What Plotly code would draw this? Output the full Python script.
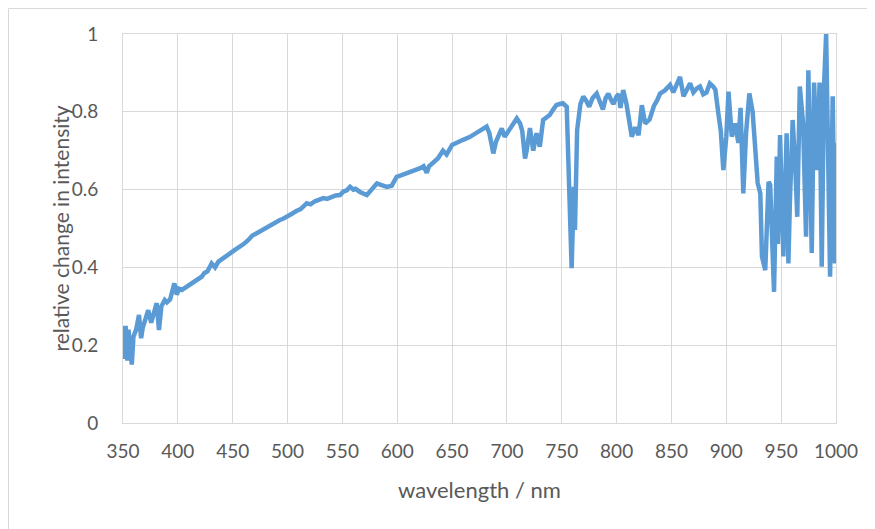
import plotly.graph_objects as go

wavelength = [
    350, 351, 352.4, 354, 355, 356.5, 358, 359.5, 362, 364.6, 366.5, 368, 370, 373, 375.7, 378,
    380.7, 382.8, 385, 388, 390, 393, 396.8, 399, 401, 403.7, 408, 412.6, 417, 421.7, 424, 427,
    430.8, 433.9, 437, 440, 443, 447, 452, 456.7, 460, 464, 468, 471.9, 476, 480, 484, 487, 490,
    493, 496, 500, 504, 508, 512, 517.5, 521, 525, 529, 532.7, 536, 540, 544, 547.8, 551, 554,
    557, 560, 562, 566, 569, 572.3, 576.7, 579, 581.5, 585, 590.6, 595, 599.5, 604, 608.7, 613,
    617.8, 621, 624, 626.9, 629, 633, 637, 641.7, 645, 650, 655, 660, 666, 672.4, 677, 681.5,
    684, 687.6, 690, 695.3, 698, 702, 706, 709, 712, 714, 716.5, 718, 721, 724, 727, 730, 733,
    736, 739, 742, 745, 748, 751, 754.5, 757.5, 759, 761, 762, 764, 767, 769.6, 772, 775, 778,
    781.8, 784, 787.5, 790, 792.5, 795, 797, 800, 802, 803.5, 806, 809, 811, 813.8, 817, 820,
    823, 826, 830, 834, 837, 839.6, 844, 848.7, 851.7, 855, 857.8, 861, 864, 867, 870, 873, 876,
    879, 882, 885, 888, 890, 892.7, 895, 897.3, 900, 902, 905, 908, 911, 913, 915.5, 918, 921,
    924, 926, 928.6, 931, 932.5, 935.5, 937, 938.5, 940, 941.6, 943.5, 946, 947, 949, 952, 955,
    956.6, 958, 960.5, 963, 964.7, 967, 970, 972.7, 974.8, 977.9, 980, 983, 985, 987, 989, 991,
    993, 994.6, 997, 999, 1000,
]
intensity = [
    0.25, 0.165, 0.25, 0.16, 0.24, 0.2, 0.15, 0.222, 0.24, 0.278, 0.218, 0.245, 0.265, 0.29, 0.258, 0.284,
    0.308, 0.239, 0.3, 0.316, 0.31, 0.318, 0.359, 0.33, 0.345, 0.342, 0.35, 0.359, 0.37, 0.376, 0.385, 0.39,
    0.41, 0.40, 0.415, 0.42, 0.428, 0.435, 0.445, 0.453, 0.46, 0.47, 0.482, 0.488, 0.495, 0.5, 0.508, 0.513, 0.52,
    0.522, 0.525, 0.53, 0.538, 0.545, 0.55, 0.565, 0.562, 0.57, 0.573, 0.578, 0.576, 0.582, 0.585, 0.586, 0.595, 0.598,
    0.607, 0.6, 0.602, 0.594, 0.59, 0.586, 0.6, 0.61, 0.616, 0.612, 0.607, 0.61, 0.633, 0.637, 0.642, 0.645,
    0.65, 0.655, 0.66, 0.643, 0.66, 0.67, 0.68, 0.70, 0.69, 0.715, 0.72, 0.728, 0.735, 0.745, 0.752, 0.762,
    0.745, 0.693, 0.723, 0.757, 0.736, 0.755, 0.77, 0.783, 0.77, 0.75, 0.68, 0.7, 0.758, 0.70, 0.745, 0.71, 0.779,
    0.785, 0.792, 0.805, 0.817, 0.82, 0.822, 0.813, 0.573, 0.398, 0.607, 0.496, 0.753, 0.82, 0.839, 0.83, 0.813, 0.835,
    0.847, 0.83, 0.806, 0.835, 0.847, 0.83, 0.82, 0.84, 0.845, 0.81, 0.856, 0.82, 0.78, 0.736, 0.76, 0.74,
    0.817, 0.77, 0.78, 0.815, 0.83, 0.847, 0.855, 0.869, 0.85, 0.87, 0.89, 0.84, 0.86, 0.873, 0.85, 0.86, 0.865,
    0.845, 0.85, 0.873, 0.865, 0.857, 0.797, 0.75, 0.65, 0.736, 0.852, 0.736, 0.77, 0.72, 0.81, 0.59, 0.745, 0.847,
    0.8, 0.70, 0.617, 0.59, 0.428, 0.393, 0.53, 0.62, 0.612, 0.5, 0.337, 0.685, 0.46, 0.74, 0.428, 0.745,
    0.41, 0.57, 0.779, 0.65, 0.53, 0.865, 0.77, 0.479, 0.907, 0.437, 0.875, 0.65, 0.875, 0.402, 0.86, 1.0,
    0.53, 0.376, 0.84, 0.41, 0.72,
]

x_ticks = [350, 400, 450, 500, 550, 600, 650, 700, 750, 800, 850, 900, 950, 1000]
y_ticks = [0, 0.2, 0.4, 0.6, 0.8, 1]
y_tick_labels = ["0", "0.2", "0.4", "0.6", "0.8", "1"]

FONT = "Lato, 'Open Sans', sans-serif"
GRID = "#D9D9D9"
TXT = "#595959"

# plot area in figure pixels (page has an 8px body margin)
L, R, T, B = 115, 828, 26, 415
W, H = R - L, B - T

fig = go.Figure()
fig.add_trace(go.Scatter(
    x=wavelength, y=intensity, mode="lines",
    line=dict(color="#5B9BD5", width=4.5),
    showlegend=False,
))

fig.update_layout(
    width=875, height=529,
    margin=dict(l=L, r=875 - R, t=T, b=529 - B),
    paper_bgcolor="white", plot_bgcolor="white",
    font=dict(family=FONT, color=TXT, size=19),
    xaxis=dict(
        range=[350, 1000], tickvals=x_ticks, ticktext=[str(v) for v in x_ticks],
        showgrid=True, gridcolor=GRID, gridwidth=1,
        showline=True, linecolor=GRID, mirror=True, zeroline=False,
        ticks="", ticklabelstandoff=11,
        tickfont=dict(size=19, color=TXT),
        title=dict(text="wavelength / nm", font=dict(size=22, color=TXT), standoff=21),
    ),
    yaxis=dict(
        range=[0, 1], tickvals=y_ticks, ticktext=y_tick_labels,
        showgrid=True, gridcolor=GRID, gridwidth=1,
        showline=True, linecolor=GRID, mirror=True, zeroline=False,
        ticks="", ticklabelstandoff=20,
        tickfont=dict(size=19, color=TXT),
    ),
    annotations=[dict(
        text="relative change in intensity", textangle=-90,
        xref="paper", yref="paper", x=(52 - L) / W, y=0.5,
        xanchor="center", yanchor="middle", showarrow=False,
        font=dict(size=21, color=TXT, family=FONT),
    )],
    shapes=[dict(
        type="rect", xref="paper", yref="paper",
        x0=(0.5 - L) / W, x1=(880 - L) / W,
        y0=(B - 528) / H, y1=(B - 0.5) / H,
        line=dict(color=GRID, width=1), fillcolor="rgba(0,0,0,0)", layer="below",
    )],
)

fig.write_html("out.html")
